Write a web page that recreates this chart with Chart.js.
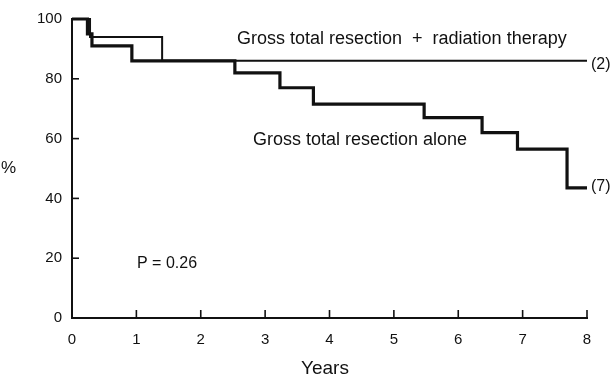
<!DOCTYPE html>
<html>
<head>
<meta charset="utf-8">
<script src="https://cdn.jsdelivr.net/npm/chart.js@4"></script>
<style>
  body { margin: 0; background: #fff; }
  #wrap { width: 613px; height: 383px; }
</style>
</head>
<body>
<div id="wrap"><canvas id="kmChart" width="613" height="383"></canvas></div>
<script>
// Survival curves (years, % surviving)
const radiationYears = [0, 0.28, 1.40, 8.0];
const radiationPct = [100, 94, 86, 86];
const aloneYears = [0, 0.24, 0.31, 0.93, 2.53, 3.23, 3.75, 5.47, 6.37, 6.92, 7.69, 8.0];
const alonePct = [100, 95, 91, 86, 82, 77, 71.5, 67, 62, 56.5, 43.5, 43.5];

// Axis ticks
const xTicks = [0, 1, 2, 3, 4, 5, 6, 7, 8];
const yTicks = [0, 20, 40, 60, 80, 100];

const ink = '#111';
const fontFamily = '"Liberation Sans", Arial, Helvetica, sans-serif';

function toPoints(xs, ys) {
    return xs.map((x, i) => ({ x: x, y: ys[i] }));
}

// Text labels placed on the plot
const notes = [
    { text: 'Gross total resection  +  radiation therapy', x: 237, y: 39, size: 18 },
    { text: '(2)', x: 591, y: 65, size: 16 },
    { text: 'Gross total resection alone', x: 253, y: 140, size: 18 },
    { text: '(7)', x: 591, y: 187, size: 16 },
    { text: 'P = 0.26', x: 137, y: 264, size: 16 },
    { text: '%', x: 1, y: 168, size: 17 },
    { text: 'Years', x: 301, y: 369, size: 19 }
];

// Inward tick marks and annotation text
const decorPlugin = {
    id: 'decor',
    afterDraw(chart) {
        const ctx = chart.ctx;
        const xs = chart.scales.x;
        const ys = chart.scales.y;
        const area = chart.chartArea;
        ctx.save();
        ctx.strokeStyle = ink;
        ctx.lineWidth = 1.6;
        xTicks.forEach(v => {
            if (v === 0) return;
            const px = xs.getPixelForValue(v);
            ctx.beginPath();
            ctx.moveTo(px, area.bottom);
            ctx.lineTo(px, area.bottom - 8);
            ctx.stroke();
        });
        yTicks.forEach(v => {
            if (v === 0 || v === 100) return;
            const py = ys.getPixelForValue(v);
            ctx.beginPath();
            ctx.moveTo(area.left, py);
            ctx.lineTo(area.left + 7, py);
            ctx.stroke();
        });
        ctx.fillStyle = ink;
        ctx.textBaseline = 'middle';
        ctx.textAlign = 'left';
        notes.forEach(n => {
            ctx.font = n.size + 'px ' + fontFamily;
            ctx.fillText(n.text, n.x, n.y);
        });
        ctx.restore();
    }
};

const ctx = document.getElementById('kmChart').getContext('2d');
new Chart(ctx, {
    type: 'line',
    data: {
        datasets: [
            {
                label: 'Gross total resection + radiation therapy',
                data: toPoints(radiationYears, radiationPct),
                borderColor: ink,
                borderWidth: 2,
                stepped: 'before',
                pointRadius: 0,
                fill: false,
                clip: 6
            },
            {
                label: 'Gross total resection alone',
                data: toPoints(aloneYears, alonePct),
                borderColor: ink,
                borderWidth: 3.2,
                stepped: 'before',
                pointRadius: 0,
                fill: false,
                clip: 6
            }
        ]
    },
    options: {
        responsive: false,
        animation: false,
        devicePixelRatio: 1,
        layout: { padding: { top: 17, right: 26, left: 0, bottom: 0 } },
        plugins: {
            legend: { display: false },
            tooltip: { enabled: false }
        },
        scales: {
            x: {
                type: 'linear',
                min: 0,
                max: 8,
                afterBuildTicks: s => { s.ticks = xTicks.map(v => ({ value: v })); },
                afterFit: s => { s.height = 65; },
                grid: { display: true, drawOnChartArea: false, drawTicks: false },
                border: { display: true, color: ink, width: 2 },
                ticks: {
                    color: ink,
                    padding: 13,
                    autoSkip: false,
                    maxRotation: 0,
                    font: { family: fontFamily, size: 15 }
                }
            },
            y: {
                min: 0,
                max: 100,
                afterBuildTicks: s => { s.ticks = yTicks.map(v => ({ value: v })); },
                afterFit: s => { s.width = 72; },
                grid: { display: true, drawOnChartArea: false, drawTicks: false },
                border: { display: true, color: ink, width: 2 },
                ticks: {
                    color: ink,
                    padding: 10,
                    font: { family: fontFamily, size: 15 }
                }
            }
        }
    },
    plugins: [decorPlugin]
});
</script>
</body>
</html>
